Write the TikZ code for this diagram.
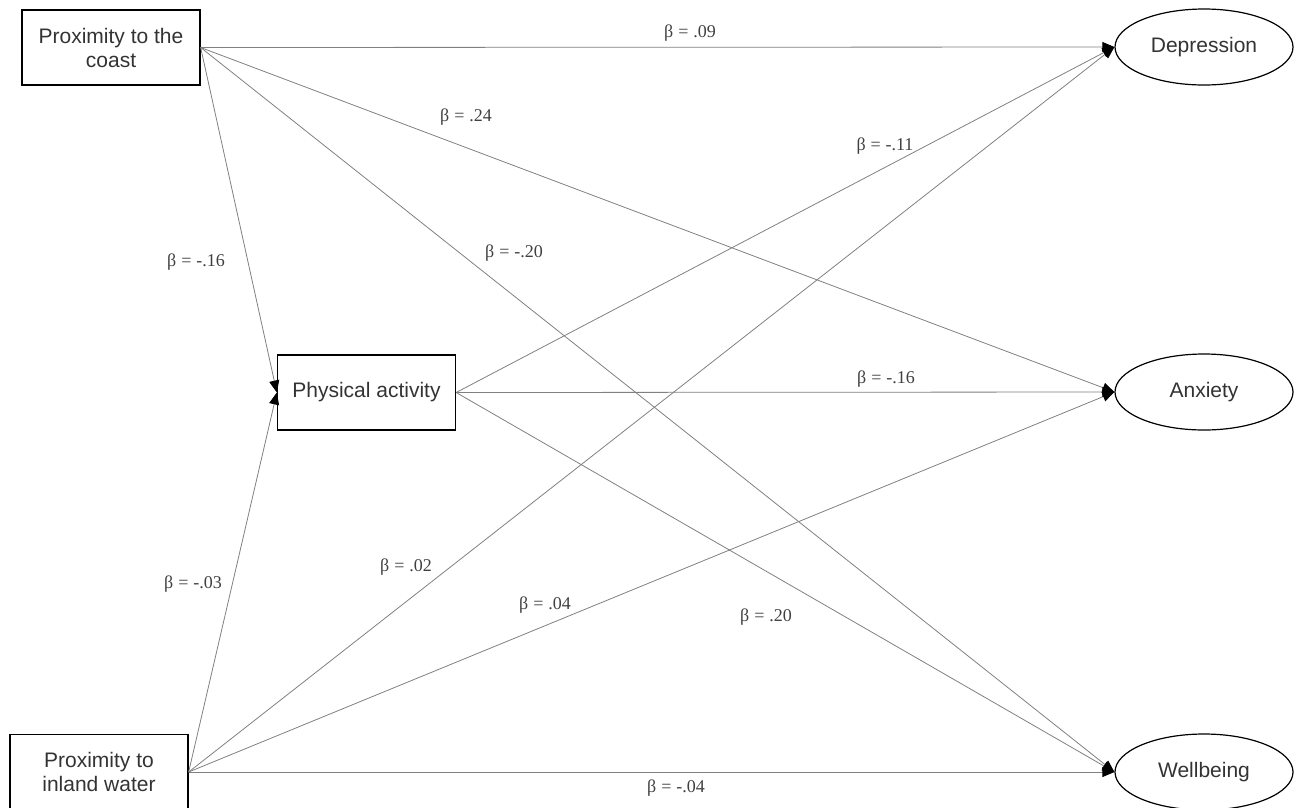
\documentclass[tikz,border=0pt]{standalone}
\usepackage{fontspec}
\setmainfont{Liberation Serif}
\setsansfont{Liberation Sans}
\usetikzlibrary{arrows.meta, shapes.geometric, positioning}

\newcommand{\betaval}[1]{β\hspace{0.27em}=\hspace{0.27em}#1}

\tikzset{
    var_box/.style={draw, line width=1.3pt, inner sep=0pt, minimum width=178pt, minimum height=75pt,
        align=center, text=black!80, font=\sffamily\fontsize{21}{24}\selectfont},
    var_oval/.style={ellipse, draw, line width=1.2pt, inner sep=0pt, minimum width=178pt, minimum height=76pt,
        text=black!80, font=\sffamily\fontsize{21}{24}\selectfont},
    path_line/.style={draw=gray, line width=0.8pt, -{Triangle[length=12pt, width=10pt, color=black]}},
    beta_label/.style={text=black!75, inner sep=0pt, font=\fontsize{18}{20}\selectfont}
}

\begin{document}
\begin{tikzpicture}[x=1pt, y=-1pt]
    \useasboundingbox (0,0) rectangle (1295,807);

    % --- Predictors ---
    \node[var_box] (coast) at (111,47.5) {Proximity to the\\coast};
    \node[var_box] (inland) at (99,772) {Proximity to\\inland water};

    % --- Mediator ---
    \node[var_box] (activity) at (366.5,392.5) {Physical activity};

    % --- Outcomes ---
    \node[var_oval] (depression) at (1204,47) {Depression};
    \node[var_oval] (anxiety) at (1204,392) {Anxiety};
    \node[var_oval] (wellbeing) at (1204,772) {Wellbeing};

    % --- Paths from the coast ---
    \draw[path_line] (coast.east) -- (depression.west);
    \draw[path_line] (coast.east) -- (anxiety.west);
    \draw[path_line] (coast.east) -- (wellbeing.west);
    \draw[path_line] (coast.east) -- (activity.west);

    % --- Paths from inland water ---
    \draw[path_line] (inland.east) -- (activity.west);
    \draw[path_line] (inland.east) -- (depression.west);
    \draw[path_line] (inland.east) -- (anxiety.west);
    \draw[path_line] (inland.east) -- (wellbeing.west);

    % --- Paths from physical activity ---
    \draw[path_line] (activity.east) -- (depression.west);
    \draw[path_line] (activity.east) -- (anxiety.west);
    \draw[path_line] (activity.east) -- (wellbeing.west);

    % --- Coefficients ---
    \node[beta_label] (b_coast_dep) at (690,33) {\betaval{.09}};
    \node[beta_label] (b_coast_anx) at (466,117) {\betaval{.24}};
    \node[beta_label] (b_coast_wel) at (514,253) {\betaval{-.20}};
    \node[beta_label] (b_coast_act) at (196,262) {\betaval{-.16}};
    \node[beta_label] (b_act_dep) at (885,146) {\betaval{-.11}};
    \node[beta_label] (b_act_anx) at (886,379) {\betaval{-.16}};
    \node[beta_label] (b_act_wel) at (766,617) {\betaval{.20}};
    \node[beta_label] (b_inl_act) at (193,584) {\betaval{-.03}};
    \node[beta_label] (b_inl_dep) at (406,567) {\betaval{.02}};
    \node[beta_label] (b_inl_anx) at (545,605) {\betaval{.04}};
    \node[beta_label] (b_inl_wel) at (676,788) {\betaval{-.04}};
\end{tikzpicture}
\end{document}
